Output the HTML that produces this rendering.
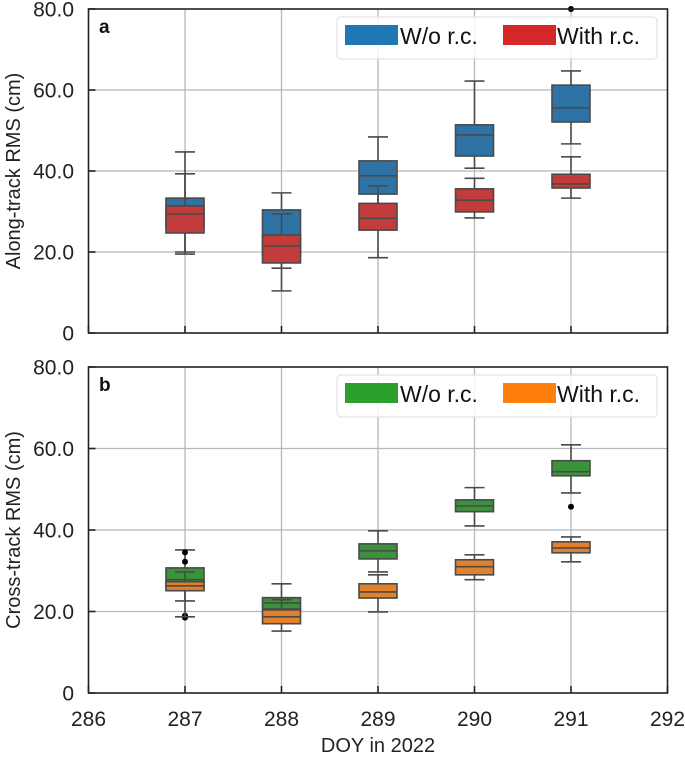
<!DOCTYPE html>
<html><head><meta charset="utf-8"><style>
body{margin:0;background:#fff;font-family:"Liberation Sans",Arial,sans-serif}
svg text{font-family:"Liberation Sans",Arial,sans-serif}
</style></head><body>
<svg id="chart" width="685" height="755" xmlns="http://www.w3.org/2000/svg"></svg>
<script>
const days = [287, 288, 289, 290, 291];
const xTicks = [286, 287, 288, 289, 290, 291, 292];
const yTicks = [0, 20, 40, 60, 80];
const yTickLabels = ["0", "20.0", "40.0", "60.0", "80.0"];
// [low whisker, q1, median, q3, high whisker]
const alongWo = [[20,26,30.6,33.3,44.7],[16,19,24,30.4,34.6],[30,34.3,38.8,42.5,48.4],[40.7,43.7,48.9,51.4,62.2],[46.7,52.1,55.6,61.2,64.7]];
const alongWith = [[19.5,24.7,29.4,31.4,39.3],[10.4,17.3,21.5,24.2,29.4],[18.6,25.4,28.3,32,36.3],[28.4,29.9,32.8,35.6,38.2],[33.3,35.8,36.8,39.2,43.5]];
const alongWoOut = [[],[],[],[],[80]];
const alongWithOut = [[],[],[],[],[]];
const crossWo = [[22.6,25.5,27.8,30.7,35.1],[18,20.6,22.1,23.4,26.8],[29.7,32.9,34.9,36.6,39.8],[41,44.5,45.9,47.4,50.4],[49.1,53.3,54.3,57,60.9]];
const crossWith = [[18.7,25.1,26.3,27.3,29.7],[15.2,17,18.7,20.4,22.9],[19.9,23.3,24.8,26.8,29],[27.8,29,31,32.7,33.9],[32.2,34.4,35.6,37.1,38.3]];
const crossWoOut = [[34.5,32.2,18.5,19],[],[],[],[45.7]];
const crossWithOut = [[],[],[],[],[]];

const NS = "http://www.w3.org/2000/svg";
const svg = document.getElementById("chart");
function mk(tag, attrs, parent){const e=document.createElementNS(NS,tag);for(const k in attrs)e.setAttribute(k,attrs[k]);(parent||svg).appendChild(e);return e;}
const X0=88.5, X1=667.5;
function xs(d){return X0+(d-286)/(292-286)*(X1-X0);}

function panel(top,bottom,label,ylabel,wo,wi,woOut,wiOut,cWo,cWi,lWo,lWi,name){
  const g=mk("g",{});
  
  
  const ys=v=>bottom-(v/80)*(bottom-top);
  xTicks.slice(1,-1).forEach(t=>{const l=mk("line",{x1:xs(t),x2:xs(t),y1:top,y2:bottom,stroke:"#b8b8b8","stroke-width":1.3},g);
    });
  yTicks.slice(1,-1).forEach(t=>{const l=mk("line",{x1:X0,x2:X1,y1:ys(t),y2:ys(t),stroke:"#b8b8b8","stroke-width":1.3},g);
    });
  function box(stats,outs,col,nm){
    days.forEach((d,i)=>{
      const s=stats[i],cx=xs(d),w=38,cw=20;
      const bg=mk("g",{},g);
      
      
      const st={stroke:"#4a4a4a","stroke-width":1.6};
      mk("line",Object.assign({x1:cx,x2:cx,y1:ys(s[0]),y2:ys(s[1])},st),bg);
      mk("line",Object.assign({x1:cx,x2:cx,y1:ys(s[3]),y2:ys(s[4])},st),bg);
      mk("line",Object.assign({x1:cx-cw/2,x2:cx+cw/2,y1:ys(s[0]),y2:ys(s[0])},st),bg);
      mk("line",Object.assign({x1:cx-cw/2,x2:cx+cw/2,y1:ys(s[4]),y2:ys(s[4])},st),bg);
      mk("rect",Object.assign({x:cx-w/2,y:ys(s[3]),width:w,height:ys(s[1])-ys(s[3]),fill:col},st),bg);
      mk("line",Object.assign({x1:cx-w/2,x2:cx+w/2,y1:ys(s[2]),y2:ys(s[2])},st),bg);
      outs[i].forEach(o=>{const c=mk("circle",{cx:cx,cy:ys(o),r:3,fill:"#000"},bg);
        });
    });
  }
  box(wo,woOut,cWo,"box-without-rc");
  box(wi,wiOut,cWi,"box-with-rc");
  const f=mk("rect",{x:X0,y:top,width:X1-X0,height:bottom-top,fill:"none",stroke:"#222","stroke-width":1.6},g);
  
  yTicks.forEach((t,i)=>{
    mk("line",{x1:X0,x2:X0+7,y1:ys(t),y2:ys(t),stroke:"#222","stroke-width":1.6},g);
    const tx=mk("text",{x:74,y:ys(t)+7.5,"text-anchor":"end","font-size":21,fill:"#222"},g);
    tx.textContent=yTickLabels[i];
    
  });
  xTicks.forEach(t=>{mk("line",{x1:xs(t),x2:xs(t),y1:bottom,y2:bottom-7,stroke:"#222","stroke-width":1.6},g);});
  const lb=mk("text",{x:99,y:top+24,"font-size":19,"font-weight":"bold",fill:"#111"},g);
  lb.textContent=label;
  const yl=mk("text",{x:0,y:0,"text-anchor":"middle","font-size":20,fill:"#222",transform:`translate(20,${(top+bottom)/2}) rotate(-90)`},g);
  yl.textContent=ylabel;
  const lg=mk("g",{},g);
  
  mk("rect",{x:337,y:top+8,width:320,height:42,rx:4,fill:"#fff","fill-opacity":0.85,stroke:"#ddd","stroke-width":1},lg);
  const e1=mk("g",{},lg);
  mk("rect",{x:345,y:top+16,width:53,height:20,fill:lWo},e1);
  const t1=mk("text",{x:400,y:top+35,"font-size":23,fill:"#111"},e1);t1.textContent="W/o r.c.";
  const e2=mk("g",{},lg);
  mk("rect",{x:503,y:top+16,width:53,height:20,fill:lWi},e2);
  const t2=mk("text",{x:557,y:top+35,"font-size":23,fill:"#111"},e2);t2.textContent="With r.c.";
}
panel(9,333,"a","Along-track RMS (cm)",alongWo,alongWith,alongWoOut,alongWithOut,"#2f73a6","#c33c3c","#1f77b4","#d62728","panel-a");
panel(367,693,"b","Cross-track RMS (cm)",crossWo,crossWith,crossWoOut,crossWithOut,"#3a923a","#e1812c","#2ca02c","#ff7f0e","panel-b");
xTicks.forEach(t=>{
  const tx=mk("text",{x:xs(t),y:726,"text-anchor":"middle","font-size":21,fill:"#222"});
  tx.textContent=t;
  
  
});
const xl=mk("text",{x:378,y:752,"text-anchor":"middle","font-size":20,fill:"#222"});
xl.textContent="DOY in 2022";


</script>
</body></html>
